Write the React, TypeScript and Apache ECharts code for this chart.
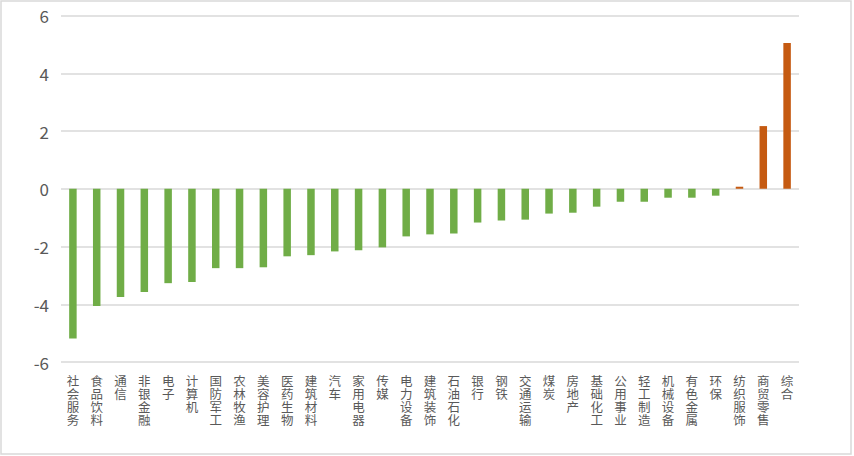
import React, { useEffect, useRef } from "react";
import * as echarts from "echarts";

const categories = [
  "社会服务", "食品饮料", "通信", "非银金融", "电子", "计算机", "国防军工", "农林牧渔",
  "美容护理", "医药生物", "建筑材料", "汽车", "家用电器", "传媒", "电力设备", "建筑装饰",
  "石油石化", "银行", "钢铁", "交通运输", "煤炭", "房地产", "基础化工", "公用事业",
  "轻工制造", "机械设备", "有色金属", "环保", "纺织服饰", "商贸零售", "综合",
];

const values = [
  -5.19, -4.06, -3.75, -3.58, -3.27, -3.23, -2.75, -2.75,
  -2.72, -2.34, -2.3, -2.17, -2.13, -2.03, -1.65, -1.58,
  -1.55, -1.17, -1.1, -1.07, -0.86, -0.83, -0.62, -0.45,
  -0.45, -0.31, -0.31, -0.24, 0.07, 2.17, 5.05,
];

const yMin = -6;
const yMax = 6;
const yInterval = 2;

const GREEN = "#70AD47";
const ORANGE = "#C55A11";

export default function App() {
  const ref = useRef<HTMLDivElement>(null);

  useEffect(() => {
    if (!ref.current) return;
    const chart = echarts.init(ref.current, null, { renderer: "svg" });
    chart.setOption({
      animation: false,
      backgroundColor: "#ffffff",
      graphic: [
        {
          type: "rect",
          shape: { x: 1, y: 1, width: 850, height: 453 },
          style: { fill: "none", stroke: "#d9d9d9", lineWidth: 1.5 },
          silent: true,
        },
      ],
      grid: { left: 61, right: 55, top: 15.5, bottom: 94, containLabel: false },
      xAxis: {
        type: "category",
        data: categories,
        axisLine: { show: false, onZero: false },
        axisTick: { show: false },
        axisLabel: {
          interval: 0,
          margin: 13,
          color: "#595959",
          fontSize: 12.5,
          lineHeight: 13,
          fontFamily: "Liberation Sans, Noto Sans CJK SC",
          verticalAlign: "top",
          formatter: (v: string) => v.split("").join("\n"),
        },
      },
      yAxis: {
        type: "value",
        min: yMin,
        max: yMax,
        interval: yInterval,
        axisLine: { show: false },
        axisTick: { show: false },
        splitLine: { lineStyle: { color: "#d9d9d9", width: 1.5 } },
        axisLabel: {
          margin: 12,
          color: "#595959",
          fontSize: 17,
          fontFamily: "Noto Sans CJK SC",
        },
      },
      series: [
        {
          type: "bar",
          data: values,
          barWidth: 7.5,
          itemStyle: {
            color: (p: any) => (p.value >= 0 ? ORANGE : GREEN),
          },
        },
      ],
    });
    return () => chart.dispose();
  }, []);

  return (
    <div
      ref={ref}
      style={{ position: "fixed", left: 0, top: 0, width: 854, height: 456 }}
    />
  );
}
